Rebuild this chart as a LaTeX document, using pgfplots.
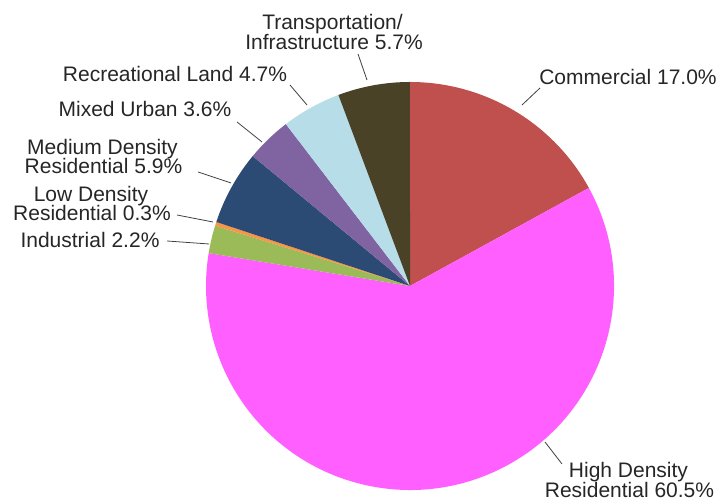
\documentclass[border=0pt]{standalone}
\usepackage{pgfplots}
\pgfplotsset{compat=1.18}
\usepackage{pgfplotstable}
\usepackage{fontspec}
\setmainfont{Liberation Sans}
\definecolor{cCom}{HTML}{C0504D}
\definecolor{cHigh}{HTML}{FF5FFF}
\definecolor{cInd}{HTML}{9BBB59}
\definecolor{cLow}{HTML}{F79646}
\definecolor{cMed}{HTML}{2B4B74}
\definecolor{cMix}{HTML}{8064A2}
\definecolor{cRec}{HTML}{B7DEE8}
\definecolor{cTra}{HTML}{4A4226}
\definecolor{txtc}{HTML}{262626}
\definecolor{leadc}{HTML}{404040}
\pgfplotstableread{
pct col
17.0 cCom
60.5 cHigh
2.2 cInd
0.3 cLow
5.9 cMed
3.6 cMix
4.7 cRec
5.7 cTra
}\piedata
\tikzset{lbl/.style={anchor=base, inner sep=0pt, font=\fontsize{21}{20}\selectfont, text=txtc}}
\begin{document}
\begin{tikzpicture}
\begin{axis}[hide axis, scale only axis, width=722pt, height=502pt,
  xmin=0, xmax=722, ymin=0, ymax=502, clip=false]
\pgfplotstablegetrowsof{\piedata}\pgfmathtruncatemacro\nrows{\pgfplotsretval-1}
\def\total{0}
\pgfplotsforeachungrouped \i in {0,...,\nrows}{%
  \pgfplotstablegetelem{\i}{pct}\of\piedata
  \pgfmathsetmacro\total{\total+\pgfplotsretval}%
}
\def\cum{90}
\pgfplotsforeachungrouped \i in {0,...,\nrows}{%
  \pgfplotstablegetelem{\i}{pct}\of\piedata
  \pgfmathsetmacro\endang{\cum-\pgfplotsretval/\total*360}%
  \pgfplotstablegetelem{\i}{col}\of\piedata
  \edef\tmp{\noexpand\fill[\pgfplotsretval] (axis cs:410,216) -- ++(\cum:204pt) arc[start angle=\cum, end angle=\endang, radius=204pt] -- cycle;}%
  \tmp
  \let\cum\endang
}
% leader lines
\addplot[leadc, line width=0.8pt, no marks] coordinates {(358,448) (367,422)};
\addplot[leadc, line width=0.8pt, no marks] coordinates {(290,417) (307,397)};
\addplot[leadc, line width=0.8pt, no marks] coordinates {(237,380) (262,360)};
\addplot[leadc, line width=0.8pt, no marks] coordinates {(198,330) (231,319)};
\addplot[leadc, line width=0.8pt, no marks] coordinates {(177,287) (213,280)};
\addplot[leadc, line width=0.8pt, no marks] coordinates {(167,261) (209,258)};
\addplot[leadc, line width=0.8pt, no marks] coordinates {(540,414) (522,397)};
\addplot[leadc, line width=0.8pt, no marks] coordinates {(545,60) (562,38)};
% labels
\node[lbl] at (axis cs:332.5,472) {Transportation/};
\node[lbl] at (axis cs:334,452) {Infrastructure 5.7\%};
\node[lbl] at (axis cs:175,420) {Recreational Land 4.7\%};
\node[lbl] at (axis cs:145,385) {Mixed Urban 3.6\%};
\node[lbl] at (axis cs:102.5,347) {Medium Density};
\node[lbl] at (axis cs:103.5,328) {Residential 5.9\%};
\node[lbl] at (axis cs:91,300) {Low Density};
\node[lbl] at (axis cs:92,281) {Residential 0.3\%};
\node[lbl] at (axis cs:90,254) {Industrial 2.2\%};
\node[lbl] at (axis cs:628,417) {Commercial 17.0\%};
\node[lbl] at (axis cs:628.5,24.5) {High Density};
\node[lbl] at (axis cs:629.5,4.5) {Residential 60.5\%};
\end{axis}
\pgfresetboundingbox
\path[use as bounding box] (0,0) rectangle (722pt,502pt);
\end{tikzpicture}
\end{document}
